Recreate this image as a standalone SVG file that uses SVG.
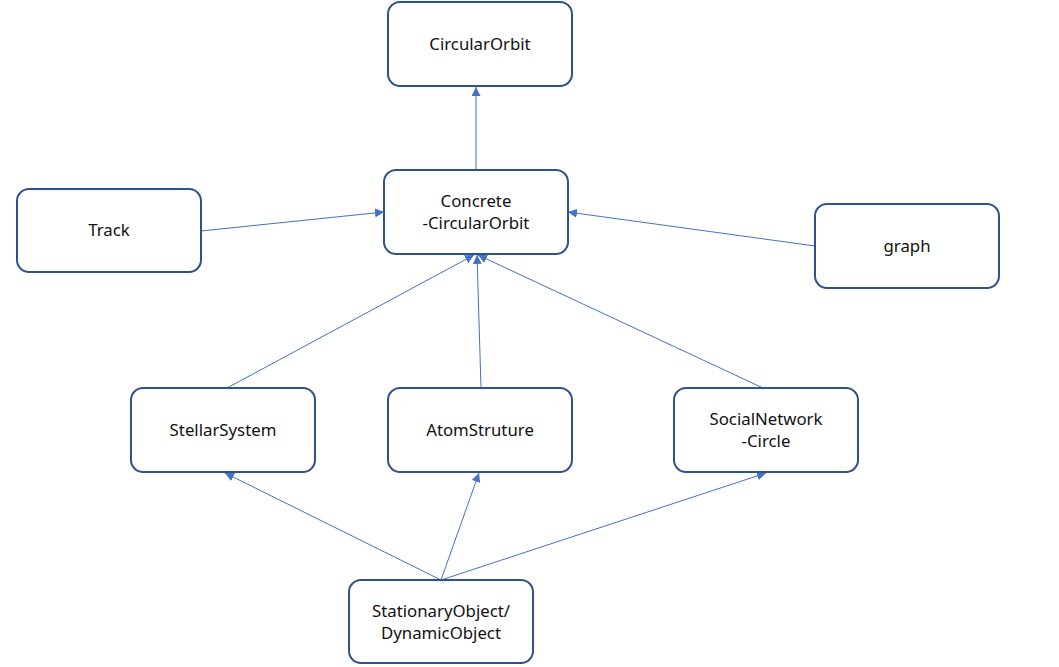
<svg xmlns="http://www.w3.org/2000/svg" width="1059" height="667" viewBox="0 0 1059 667">
<style>
.box{fill:#fff;stroke:#2F528F;stroke-width:2}
.t{font-family:"Noto Sans","Liberation Sans",sans-serif;font-size:16.8px;fill:#111;text-anchor:middle}
.c line{stroke:#4472C4;stroke-width:1;marker-end:url(#ah)}
</style>
<defs>
<marker id="ah" viewBox="0 0 10 10" refX="10" refY="5" markerWidth="9" markerHeight="9" markerUnits="userSpaceOnUse" orient="auto">
<path d="M0,0 L10,5 L0,10 z" fill="#4472C4"/>
</marker>
</defs>
<rect width="1059" height="667" fill="#fff"/>
<g class="c" id="connectors">
<line x1="476" y1="170" x2="476" y2="87"/>
<line x1="201" y1="231" x2="384" y2="212"/>
<line x1="815" y1="246" x2="568" y2="212"/>
<line x1="227" y1="388" x2="474" y2="255"/>
<line x1="481" y1="388" x2="477" y2="255"/>
<line x1="763" y1="388" x2="478" y2="255"/>
<line x1="441" y1="580" x2="225" y2="473"/>
<line x1="441" y1="580" x2="479" y2="473"/>
<line x1="441" y1="580" x2="766" y2="473"/>
</g>
<g id="circularOrbit"><rect class="box" x="388" y="2" width="184" height="84" rx="12"/><text class="t" x="480" y="50">CircularOrbit</text></g>
<g id="concrete"><rect class="box" x="384" y="170" width="184" height="84" rx="12"/><text class="t" x="476" y="207">Concrete</text><text class="t" x="476" y="229">-CircularOrbit</text></g>
<g id="track"><rect class="box" x="17" y="189" width="184" height="83" rx="12"/><text class="t" x="109" y="236">Track</text></g>
<g id="graph"><rect class="box" x="815" y="204" width="184" height="84" rx="12"/><text class="t" x="907" y="252">graph</text></g>
<g id="stellar"><rect class="box" x="131" y="388" width="184" height="84" rx="12"/><text class="t" x="223" y="436">StellarSystem</text></g>
<g id="atom"><rect class="box" x="388" y="388" width="184" height="84" rx="12"/><text class="t" x="480" y="436">AtomStruture</text></g>
<g id="social"><rect class="box" x="674" y="388" width="184" height="84" rx="12"/><text class="t" x="766" y="425">SocialNetwork</text><text class="t" x="766" y="447">-Circle</text></g>
<g id="stationary"><rect class="box" x="349" y="580" width="184" height="83" rx="12"/><text class="t" x="441" y="617">StationaryObject/</text><text class="t" x="441" y="639">DynamicObject</text></g>
</svg>
